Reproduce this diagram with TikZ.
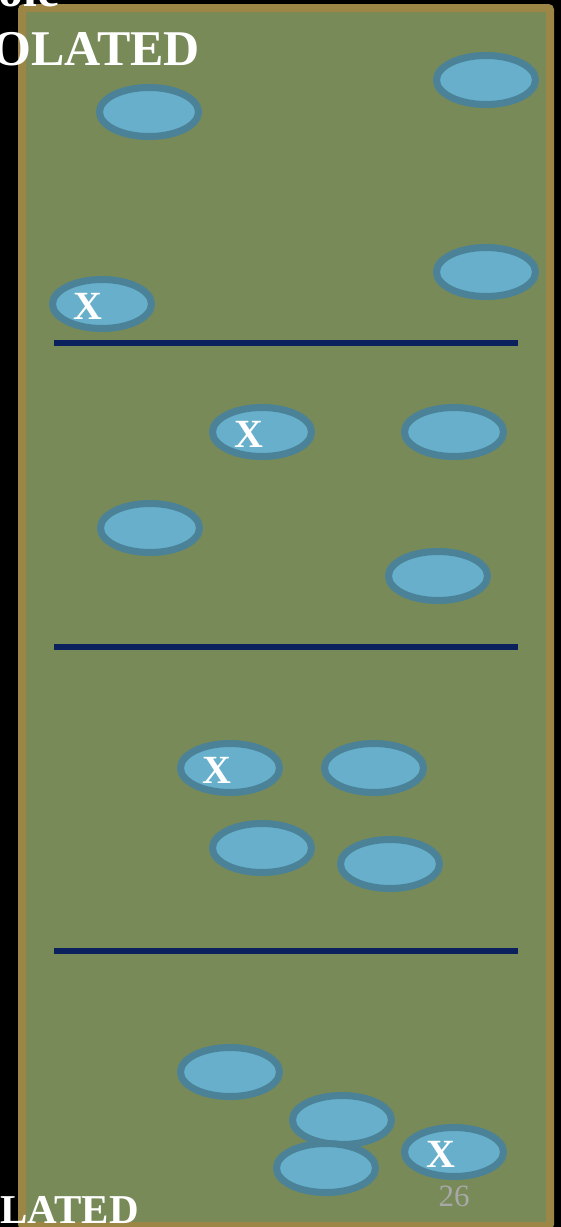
\documentclass[tikz,border=0pt]{standalone}
\usepackage{fontspec}
\setmainfont{Liberation Serif}
\definecolor{bggreen}{HTML}{788A57}
\definecolor{gold}{HTML}{9B8646}
\definecolor{navy}{HTML}{0A215E}
\definecolor{cellfill}{HTML}{67AFCB}
\definecolor{celledge}{HTML}{4B8298}
\definecolor{pagegray}{HTML}{A8A8A8}
\usetikzlibrary{shapes.geometric}
\tikzset{
  cell/.style={ellipse, fill=cellfill, draw=celledge, line width=7pt, minimum width=99pt, minimum height=49pt, inner sep=0pt},
  mark label/.style={text=white, font=\bfseries\fontsize{40}{40}\selectfont, inner sep=0pt},
  divider/.style={navy, line width=6.5pt},
  title/.style={text=white, font=\bfseries\fontsize{50}{50}\selectfont, inner sep=0pt}
}
\begin{document}
\begin{tikzpicture}[x=1pt,y=-1pt]
\useasboundingbox (0,0) rectangle (561,1227);
\fill[black] (0,0) rectangle (561,1227);
\draw[gold, fill=bggreen, line width=8pt, rounded corners=2pt] (22,8) rectangle (550,1226);
% dividers
\coordinate (d1a) at (54,343); \coordinate (d1b) at (518,343);
\coordinate (d2a) at (54,647); \coordinate (d2b) at (518,647);
\coordinate (d3a) at (54,951); \coordinate (d3b) at (518,951);
\draw[divider] (d1a) -- (d1b);
\draw[divider] (d2a) -- (d2b);
\draw[divider] (d3a) -- (d3b);
% cells
\node[cell] (c1) at (149,112) {};
\node[cell] (c2) at (486,80) {};
\node[cell] (c3) at (486,272) {};
\node[cell] (c4) at (102,304) {};
\node[cell] (c5) at (262,432) {};
\node[cell] (c6) at (454,432) {};
\node[cell] (c7) at (150,528) {};
\node[cell] (c8) at (438,576) {};
\node[cell] (c9) at (230,768) {};
\node[cell] (c10) at (374,768) {};
\node[cell] (c11) at (262,848) {};
\node[cell] (c12) at (390,864) {};
\node[cell] (c13) at (230,1072) {};
\node[cell] (c14) at (342,1120) {};
\node[cell] (c15) at (326,1168) {};
\node[cell] (c16) at (454,1152) {};
% X marks
\node[mark label] (x4) at ([xshift=-14pt,yshift=-2pt]c4.center) {X};
\node[mark label] (x5) at ([xshift=-13pt,yshift=-2pt]c5.center) {X};
\node[mark label] (x9) at ([xshift=-13pt,yshift=-2pt]c9.center) {X};
\node[mark label] (x16) at ([xshift=-13pt,yshift=-2pt]c16.center) {X};
% page number
\node[text=pagegray, font=\fontsize{31}{31}\selectfont, inner sep=0pt, anchor=base] (pg) at (454,1206) {26};
% titles
\node[title, anchor=base east] (t1) at (60,6) {ole};
\node[title, anchor=base east] (t2) at (200,65) {OLATED};
\node[title, font=\bfseries\fontsize{41}{41}\selectfont, anchor=base east] (t3) at (139,1223) {LATED};
\end{tikzpicture}
\end{document}
